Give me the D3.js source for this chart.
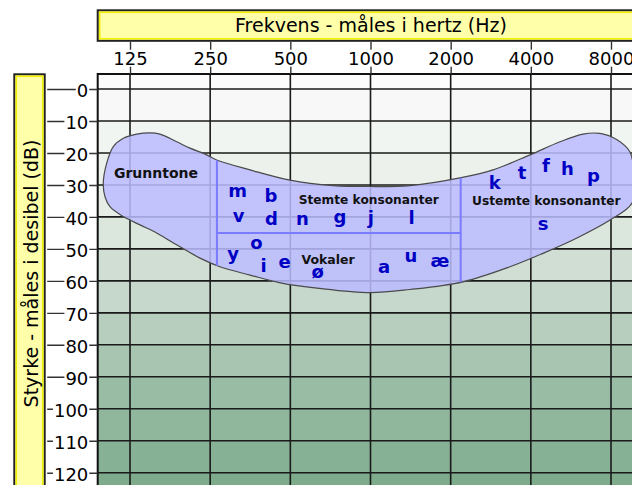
<!DOCTYPE html>
<html lang="no">
<head>
<meta charset="utf-8">
<title>Frekvens og styrke</title>
<script src="https://cdnjs.cloudflare.com/ajax/libs/d3/7.8.5/d3.min.js"></script>
<style>
  body { margin: 0; background: #fff; }
  svg { display: block; font-family: "DejaVu Sans", Verdana, sans-serif; }
</style>
</head>
<body>
<svg width="632" height="485"></svg>
<script>
// axis ticks
const freqTicks = [125, 250, 500, 1000, 2000, 4000, 8000];
const dbTicks = [0, 10, 20, 30, 40, 50, 60, 70, 80, 90, 100, 110, 120];

// outline of the speech area (Hz, dB), clockwise from the left tip
const bananaHz = [99.2, 102.2, 108.2, 118, 132.5, 148.6, 162, 187.2, 210, 242.6, 264.5, 352.8, 498.5, 723, 995.6, 1407, 2168, 2884, 3971, 5147, 6280, 7274, 8426, 9428, 9760, 9594, 7931, 5962, 4444, 3340, 2225, 1407, 996, 630, 469, 353, 272, 229, 187.7, 157.9, 136.3, 118, 105.1, 100.7];
const bananaDb = [29.5, 23.2, 18.0, 15.4, 14.1, 13.7, 14.1, 16.5, 18.5, 20.6, 22.2, 25.3, 28.5, 30.2, 30.5, 30.2, 27.8, 25.3, 20.6, 16.5, 14.1, 13.9, 15.9, 19.7, 26.9, 35.7, 41.0, 46.6, 51.4, 55.6, 60.3, 62.7, 63.7, 62.3, 60.8, 58.2, 55.6, 52.9, 48.8, 45.1, 42.5, 39.9, 36.8, 33.7];

// speech sounds
const letters = ["m", "b", "v", "d", "n", "g", "j", "l", "o", "y", "i", "e", "ø", "a", "u", "æ", "k", "t", "f", "h", "p", "s"];
const letterHz = [317, 423, 320, 425, 555, 768, 1002, 1428, 373, 305, 397, 476, 634, 1124, 1417, 1824, 2926, 3706, 4553, 5491, 6866, 4450];
const letterDb = [33.9, 35.2, 41.5, 42.5, 42.5, 42.0, 42.2, 42.2, 50.1, 53.5, 57.1, 56.1, 59.2, 57.5, 54.0, 55.8, 31.4, 28.2, 25.9, 26.9, 29.0, 44.1];

// group names
const groups = ["Grunntone", "Stemte konsonanter", "Ustemte konsonanter", "Vokaler"];
const groupHz = [156.5, 985, 4573, 693];
const groupDb = [27.9, 36.0, 36.3, 54.7];

// borders between the groups
const dividerHz = [265, 2181];
const dividerDb = 45;

const svg = d3.select("svg");
const plot = { left: 97.7, top: 74, right: 650, bottom: 500 };

const x = d3.scaleLog().base(2).domain([125, 8000]).range([130, 611]);
const y = d3.scaleLinear().domain([0, 120]).range([89, 472.7]);

// yellow title boxes
function titleBox(x0, y0, w, h) {
  svg.append("rect").attr("x", x0).attr("y", y0).attr("width", w).attr("height", h)
    .attr("fill", "#ffffaa").attr("stroke", "#222").attr("stroke-width", 2);
  svg.append("rect").attr("x", x0 + 2).attr("y", y0 + 2).attr("width", w - 4).attr("height", h - 4)
    .attr("fill", "none").attr("stroke", "#f0f000").attr("stroke-width", 1.5);
}
titleBox(97.7, 10.3, 560, 30.5);
titleBox(14.3, 74.3, 30.4, 440);

svg.append("text")
  .attr("x", 371).attr("y", 31.7)
  .attr("text-anchor", "middle")
  .attr("font-size", 19)
  .text("Frekvens - måles i hertz (Hz)");

svg.append("text")
  .attr("transform", "translate(38.4,273.5) rotate(-90)")
  .attr("text-anchor", "middle")
  .attr("font-size", 19)
  .text("Styrke - måles i desibel (dB)");

// plot area
svg.append("clipPath").attr("id", "plotClip")
  .append("rect")
  .attr("x", plot.left).attr("y", plot.top)
  .attr("width", plot.right - plot.left).attr("height", plot.bottom - plot.top);

const area = svg.append("g").attr("clip-path", "url(#plotClip)");

// background bands, one per 10 dB
const bandEdges = [y.invert(plot.top)].concat(dbTicks, [130]);
const bandColor = d3.scaleLinear()
  .domain([0, 4, 7, 10, 13])
  .range(["#fcfcfc", "#e6ede6", "#c6d7cb", "#99bca4", "#7dab8c"]);

area.selectAll("rect.band")
  .data(d3.range(bandEdges.length - 1))
  .join("rect")
  .attr("class", "band")
  .attr("x", plot.left)
  .attr("width", plot.right - plot.left)
  .attr("y", i => y(bandEdges[i]))
  .attr("height", i => y(bandEdges[i + 1]) - y(bandEdges[i]))
  .attr("fill", i => bandColor(i));

// grid
area.selectAll("line.vgrid")
  .data(freqTicks)
  .join("line")
  .attr("x1", d => x(d)).attr("x2", d => x(d))
  .attr("y1", plot.top).attr("y2", plot.bottom)
  .attr("stroke", "#1a1a1a").attr("stroke-width", 1.6);

area.selectAll("line.hgrid")
  .data(dbTicks)
  .join("line")
  .attr("x1", plot.left).attr("x2", plot.right)
  .attr("y1", d => y(d)).attr("y2", d => y(d))
  .attr("stroke", "#1a1a1a").attr("stroke-width", 1.6);

// speech banana
const pts = bananaHz.map((hz, i) => [hz, bananaDb[i]]);
const bananaLine = d3.line()
  .x(d => x(d[0]))
  .y(d => y(d[1]))
  .curve(d3.curveCatmullRomClosed.alpha(0.5));

svg.append("clipPath").attr("id", "bananaClip")
  .append("path").attr("d", bananaLine(pts));

area.append("path")
  .attr("d", bananaLine(pts))
  .attr("fill", "rgb(188,188,255)")
  .attr("fill-opacity", 0.86)
  .attr("stroke", "#4a4a4a")
  .attr("stroke-width", 1.2);

const dividers = area.append("g").attr("clip-path", "url(#bananaClip)")
  .attr("stroke", "#7b7bff").attr("stroke-width", 2);

dividers.selectAll("line.v")
  .data(dividerHz)
  .join("line")
  .attr("x1", d => x(d)).attr("x2", d => x(d))
  .attr("y1", y(0)).attr("y2", y(80));

dividers.append("line")
  .attr("x1", x(dividerHz[0])).attr("x2", x(dividerHz[1]))
  .attr("y1", y(dividerDb)).attr("y2", y(dividerDb));

// group names
const groupSize = { "Grunntone": 14, "Vokaler": 12.5 };
area.selectAll("text.group")
  .data(groups)
  .join("text")
  .attr("x", (d, i) => x(groupHz[i]))
  .attr("y", (d, i) => y(groupDb[i]))
  .attr("text-anchor", "middle")
  .attr("font-weight", "bold")
  .attr("font-size", d => groupSize[d] || 12.2)
  .attr("fill", "#111")
  .text(d => d);

// speech sounds
area.selectAll("text.letter")
  .data(letters)
  .join("text")
  .attr("x", (d, i) => x(letterHz[i]))
  .attr("y", (d, i) => y(letterDb[i]))
  .attr("text-anchor", "middle")
  .attr("font-weight", "bold")
  .attr("font-size", 18)
  .attr("fill", "#0000c4")
  .text(d => d);

// frame
svg.append("path")
  .attr("d", `M${plot.left},${plot.bottom}V${plot.top}H${plot.right}`)
  .attr("fill", "none").attr("stroke", "#111").attr("stroke-width", 2);

// axes
const topAxis = svg.append("g")
  .attr("transform", `translate(0,${plot.top})`)
  .call(d3.axisTop(x).tickValues(freqTicks).tickFormat(d3.format("d")).tickSize(32).tickSizeOuter(0));

const leftAxis = svg.append("g")
  .attr("transform", `translate(${plot.left},0)`)
  .call(d3.axisLeft(y).tickValues(dbTicks).tickSize(50.5).tickSizeOuter(0));

[topAxis, leftAxis].forEach(g => {
  g.select(".domain").remove();
  g.attr("font-family", null).attr("font-size", 18);
  g.selectAll(".tick line").attr("stroke", "#333").attr("stroke-width", 1.4);
  g.selectAll(".tick text").attr("fill", "#000");
});

topAxis.selectAll(".tick text").attr("y", -9.3).attr("dy", 0);
leftAxis.selectAll(".tick text").attr("x", -9.4).attr("dy", 7.6);

// white patch behind the tick labels
[topAxis, leftAxis].forEach(g => {
  g.selectAll(".tick").each(function () {
    const t = d3.select(this).select("text");
    const b = t.node().getBBox();
    d3.select(this).insert("rect", "text")
      .attr("x", b.x - 1).attr("y", b.y + 2)
      .attr("width", b.width + 2).attr("height", b.height - 4)
      .attr("fill", "#fff");
  });
});
</script>
</body>
</html>
